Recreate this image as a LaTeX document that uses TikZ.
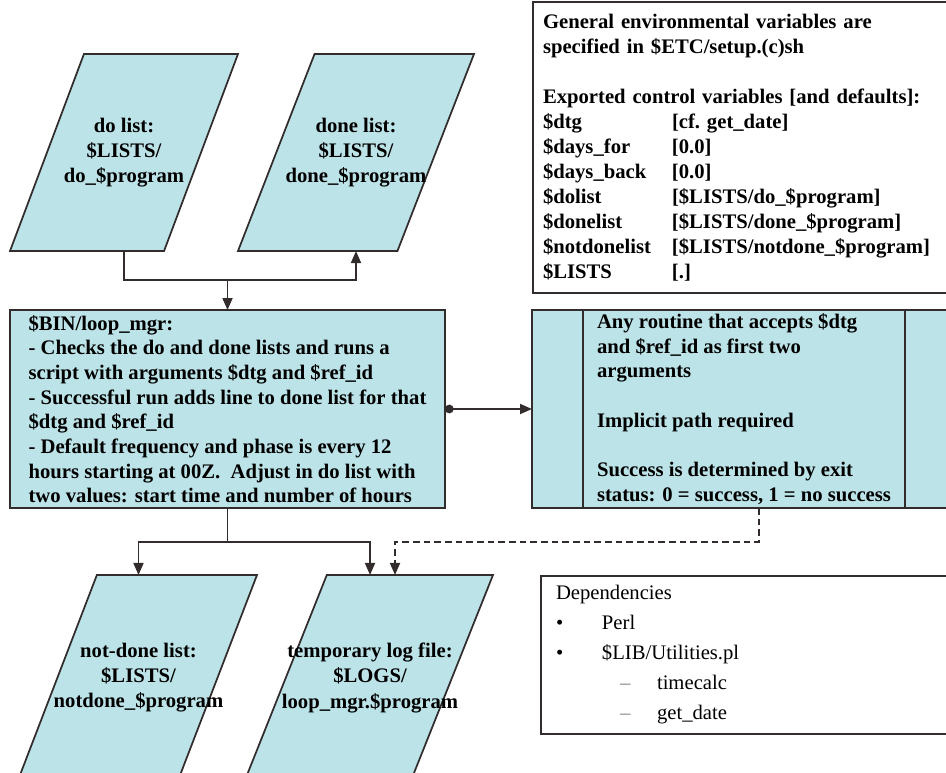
\documentclass[tikz,border=0pt]{standalone}
\usepackage{fontspec}
\setmainfont{Liberation Serif}
\usetikzlibrary{shapes.geometric,arrows.meta}
\definecolor{listblue}{RGB}{188,227,231}
\definecolor{linegray}{RGB}{50,44,44}
\newcommand{\varname}[1]{\makebox[96.75pt][l]{#1}}
\begin{document}
\begin{tikzpicture}[x=0.75pt,y=-0.75pt,
  wire/.style={draw=linegray, line width=1.3pt},
  arr/.style={wire, -{Triangle[length=9pt,width=7.5pt]}},
  procbox/.style={draw=linegray, line width=1.3pt, fill=listblue, inner ysep=0pt,
    outer sep=0pt, align=left, font=\fontsize{15.5}{18.5}\selectfont\bfseries},
  datafile/.style={trapezium, trapezium left angle=77, trapezium right angle=103,
    trapezium stretches=true, draw=linegray, line width=1.3pt, fill=listblue,
    inner sep=2pt, outer sep=0pt},
  filetext/.style={font=\fontsize{15.5}{19}\selectfont\bfseries, align=center},
  notebox/.style={draw=linegray, line width=1.3pt, fill=white, anchor=north west,
    align=left, inner ysep=0pt, outer sep=0pt},
]
\useasboundingbox (0,0) rectangle (946,772);
\clip (0,0) rectangle (946,772);

% lists read and written
\node[datafile, minimum width=171pt, minimum height=147.75pt,
  label={[filetext]center:{do list:\\\$LISTS/\\do\_\$program}}] (do) at (124,152.5) {\strut};
\node[datafile, minimum width=177pt, minimum height=147.75pt,
  label={[filetext]center:{done list:\\\$LISTS/\\done\_\$program}}] (done) at (356,152.5) {\strut};
\node[datafile, minimum width=177.75pt, minimum height=150pt,
  label={[filetext, yshift=-2pt]center:{not-done list:\\\$LISTS/\\notdone\_\$program}}] (notdone) at (138.5,675) {\strut};
\node[datafile, minimum width=184.5pt, minimum height=150pt,
  label={[filetext, yshift=-2pt]center:{temporary log file:\\\$LOGS/\\loop\_mgr.\$program}}] (logfile) at (370,675) {\strut};

% manager and called routine
\node[procbox, minimum width=326.25pt, minimum height=148.5pt] (mgr) at (227.5,409)
  {\$BIN/loop\_mgr:\\
   - Checks the do and done lists and runs a\\
   script with arguments \$dtg and \$ref\_id\\
   - Successful run adds line to done list for that\\
   \$dtg and \$ref\_id\\
   - Default frequency and phase is every 12\\
   hours starting at 00Z.\ \ Adjust in do list with\\
   two values: start time and number of hours};
\node[procbox, minimum width=318pt, minimum height=148.5pt] (routine) at (744,409)
  {Any routine that accepts \$dtg\\
   and \$ref\_id as first two\\
   arguments\\[18.5pt]
   Implicit path required\\[18.5pt]
   Success is determined by exit\\
   status: 0 = success, 1 = no success};
\draw[wire] ([xshift=38.25pt]routine.north west) -- ([xshift=38.25pt]routine.south west);
\draw[wire] ([xshift=-38.25pt]routine.north east) -- ([xshift=-38.25pt]routine.south east);

% notes
\node[notebox, minimum width=322.5pt, minimum height=218.25pt, text width=307.5pt,
  inner xsep=7.5pt, font=\fontsize{15.5}{18.75}\selectfont\bfseries] (envvars) at (533,2)
  {General environmental variables are\\
   specified in \$ETC/setup.(c)sh\\[18.75pt]
   Exported control variables [and defaults]:\\
   \varname{\$dtg}[cf.\ get\_date]\\
   \varname{\$days\_for}[0.0]\\
   \varname{\$days\_back}[0.0]\\
   \varname{\$dolist}[\$LISTS/do\_\$program]\\
   \varname{\$donelist}[\$LISTS/done\_\$program]\\
   \varname{\$notdonelist}[\$LISTS/notdone\_\$program]\\
   \varname{\$LISTS}[.]};
\node[notebox, minimum width=315pt, minimum height=118.5pt, text width=292.5pt,
  inner xsep=11.25pt, font=\fontsize{15.5}{22.5}\selectfont] (deps) at (541,576)
  {Dependencies\\
   \makebox[34.5pt][l]{\textbullet}Perl\\
   \makebox[34.5pt][l]{\textbullet}\$LIB/Utilities.pl\\
   \hspace*{48pt}\makebox[27.75pt][l]{\textcolor{gray}{--}}timecalc\\
   \hspace*{48pt}\makebox[27.75pt][l]{\textcolor{gray}{--}}get\_date};

% connectors
\coordinate (split) at (mgr.north |- 0,280);
\coordinate (fork) at (mgr.south |- 0,542);
\draw[arr] (do.south) |- (split) -| (done.south);
\draw[arr] (split) -- (mgr.north);
\draw[wire, {Circle[length=6.5pt]}-{Triangle[length=9pt,width=7.5pt]}] (mgr.east) -- (routine.west);
\draw[wire] (mgr.south) -- (fork);
\draw[arr] (fork) -| (notdone.north);
\draw[arr] (fork) -| (logfile.north);
\coordinate (routeout) at ([xshift=11.25pt]routine.south);
\coordinate (login) at ([xshift=18.75pt]logfile.north);
\draw[arr, dash pattern=on 5pt off 3pt] (routeout) |- (login |- fork) -- (login);
\end{tikzpicture}
\end{document}
